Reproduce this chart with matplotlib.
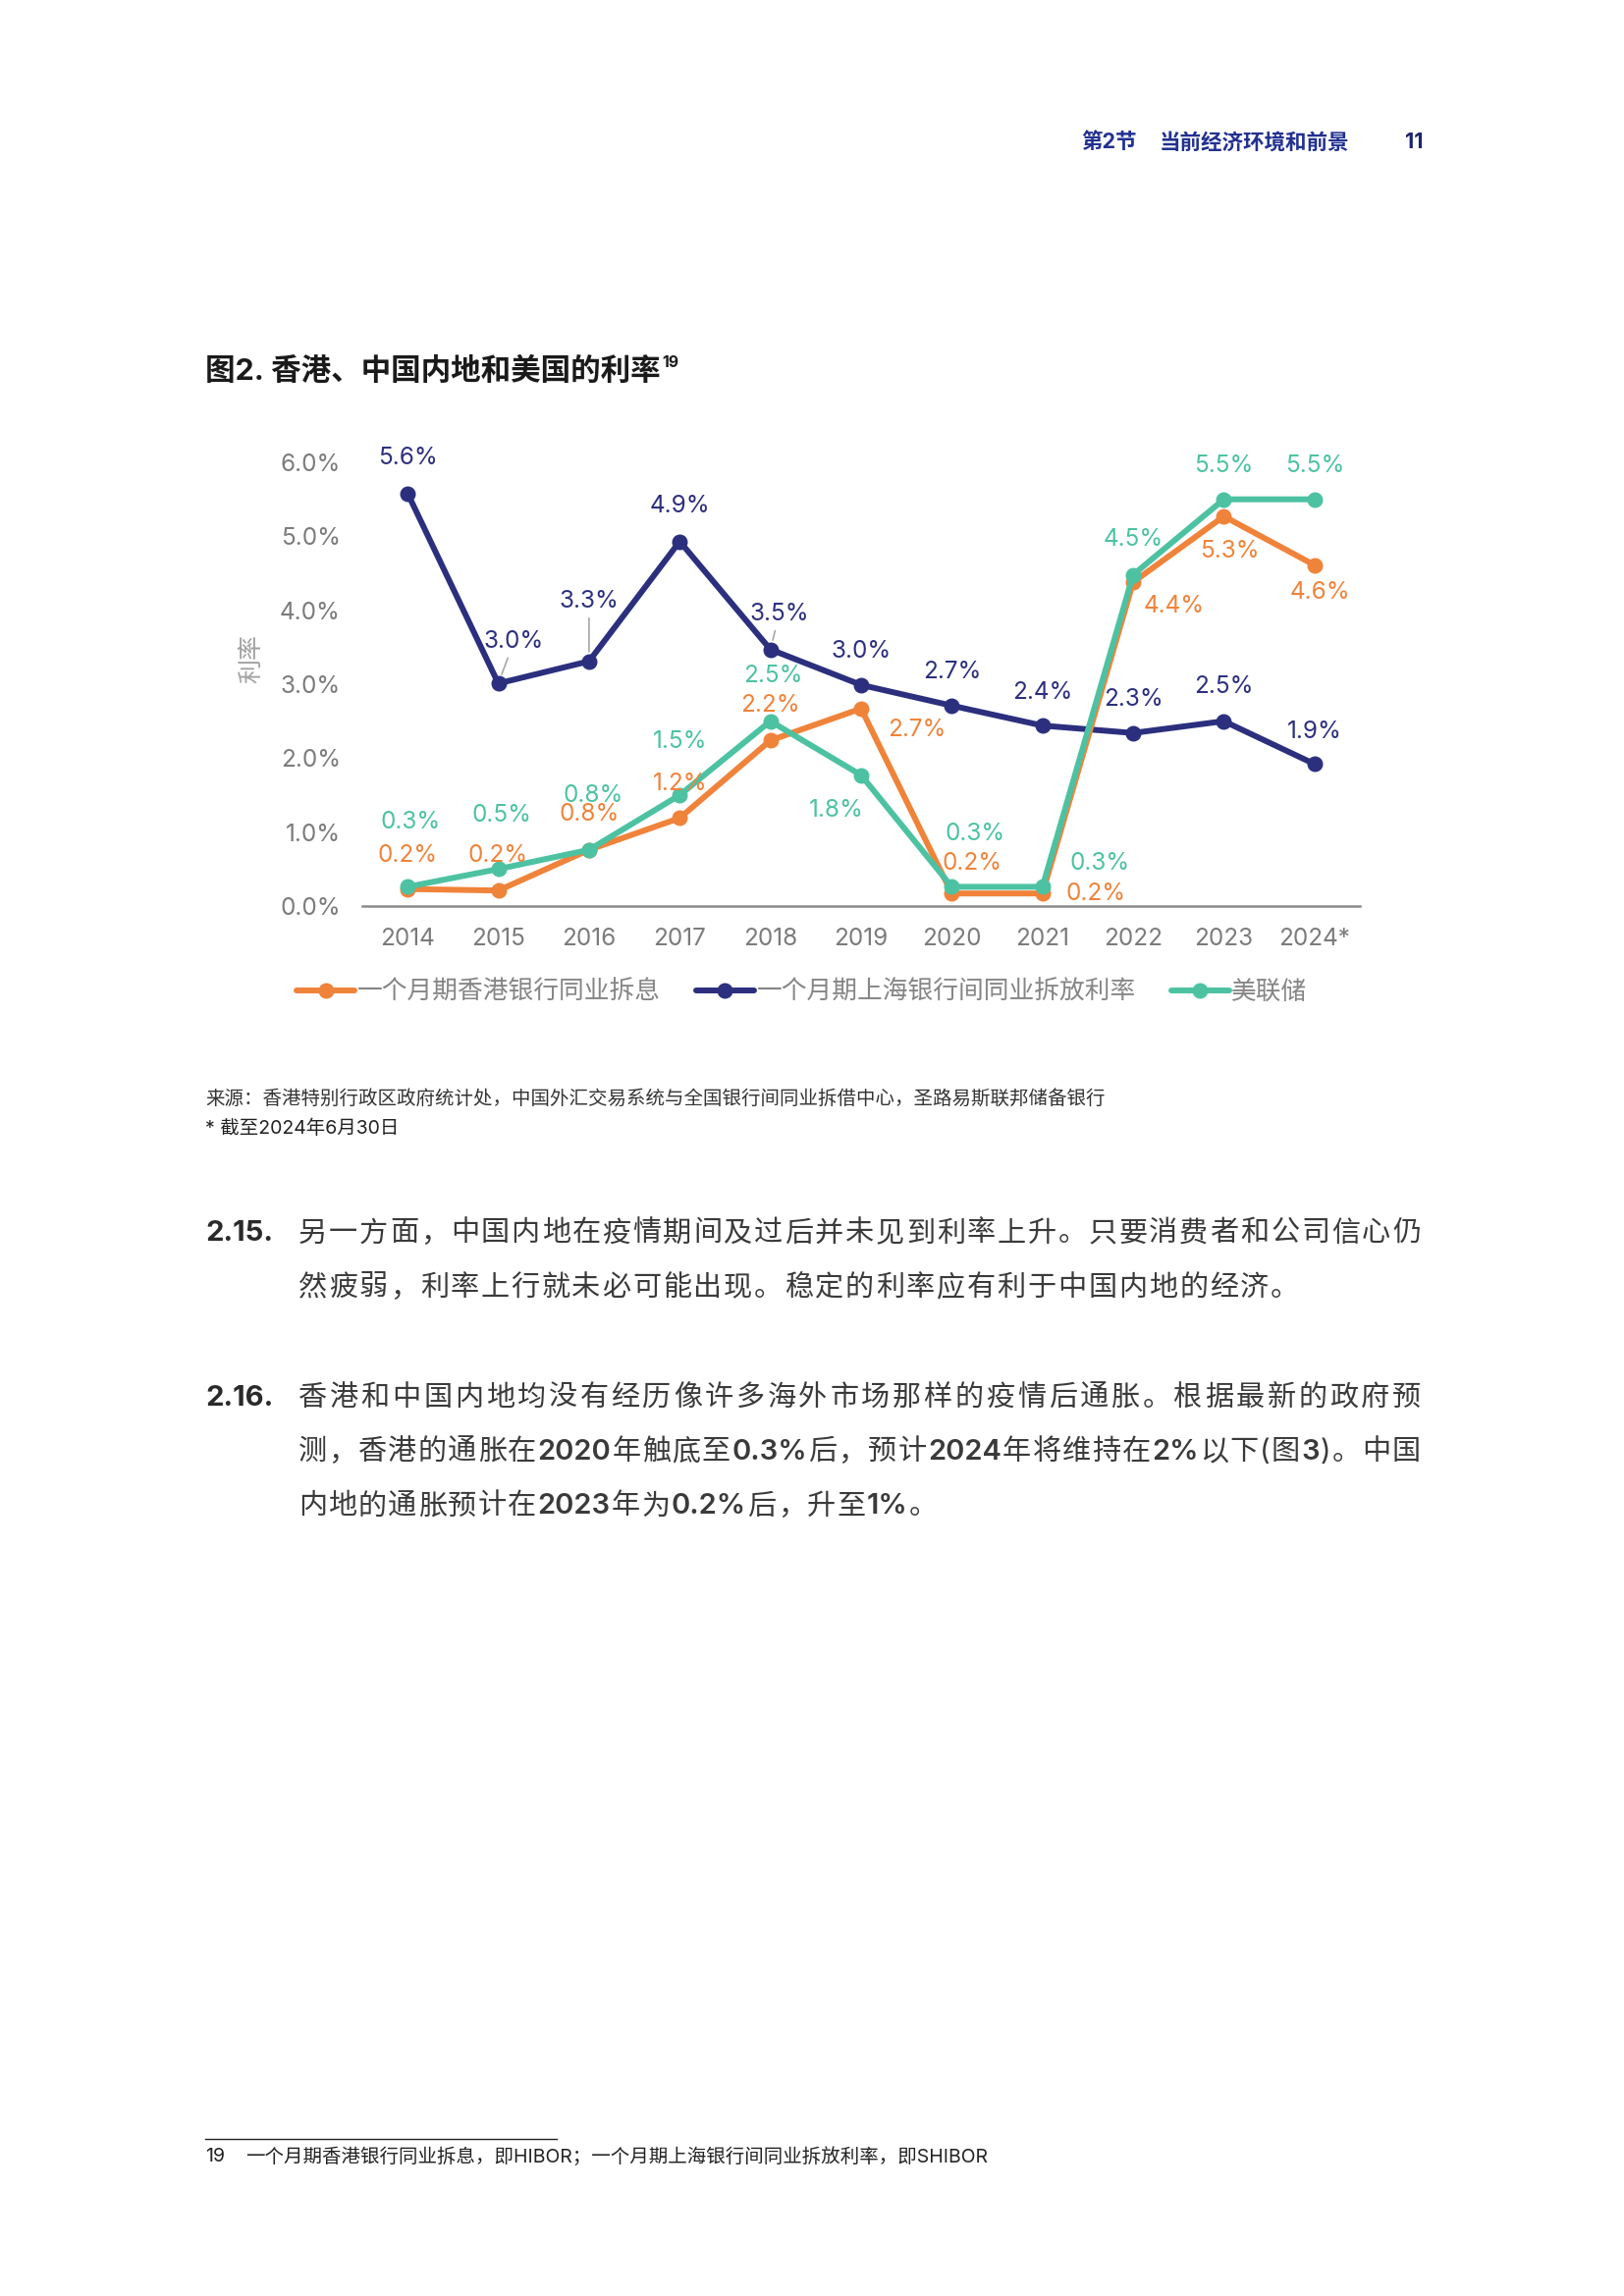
import re
import matplotlib
matplotlib.use('Agg')
import matplotlib.pyplot as plt
import numpy as np

plt.rcParams['font.family'] = ['Inter', 'Noto Sans CJK SC', 'DejaVu Sans']

# ---------------- data ----------------
years = ['2014', '2015', '2016', '2017', '2018', '2019', '2020', '2021', '2022', '2023', '2024*']
hibor = [0.23, 0.21, 0.76, 1.19, 2.24, 2.67, 0.17, 0.17, 4.38, 5.27, 4.61]
shibor = [5.58, 3.01, 3.31, 4.93, 3.47, 2.99, 2.71, 2.44, 2.34, 2.50, 1.92]
fed = [0.26, 0.50, 0.76, 1.50, 2.50, 1.77, 0.26, 0.26, 4.48, 5.50, 5.50]
series_names = ['一个月期香港银行同业拆息', '一个月期上海银行间同业拆放利率', '美联储']
yticks = [0.0, 1.0, 2.0, 3.0, 4.0, 5.0, 6.0]

# ---------------- styles ----------------
C_OR = '#F0833A'
C_NV = '#2B2F7E'
C_TL = '#4CC2A2'
GRAY = '#7b7b7b'
TXT = '#3a3a3a'

W, H, DPI = 1654, 2339, 100
fig = plt.figure(figsize=(W / DPI, H / DPI), dpi=DPI)
fig.patch.set_facecolor('white')


def fx(px):
    return px / W


def fy(py):
    return 1 - py / H


# ---------------- header ----------------
HDR = '#22318f'
fig.text(fx(1101), fy(145), '第2节', fontsize=15.5, fontweight='bold', color=HDR, va='center', ha='left')
fig.text(fx(1181), fy(145), '当前经济环境和前景', fontsize=15.5, fontweight='bold', color=HDR, va='center', ha='left')
fig.text(fx(1449), fy(145), '11', fontsize=15.5, fontweight='bold', color='#1a2470', va='center', ha='right')

# ---------------- title ----------------
renderer = fig.canvas.get_renderer()
t_title = fig.text(fx(209), fy(378), '图2. 香港、中国内地和美国的利率', fontsize=22, fontweight='bold',
                   color='#1a1a1a', va='center', ha='left')
bb = t_title.get_window_extent(renderer)
fig.text((bb.x1 + 2) / W, fy(370), '19', fontsize=11.5, fontweight='bold', color='#1a1a1a', va='center', ha='left')

# ---------------- axes ----------------
ax = fig.add_axes([fx(369), fy(923), fx(1385) - fx(369), fy(471) - fy(923)])
x = np.arange(len(years))
ax.set_xlim(-0.5, len(years) - 0.5)
ax.set_ylim(0, 6.0)

lw, ms = 4.3, 10.5
l_or, = ax.plot(x, hibor, color=C_OR, lw=lw, marker='o', ms=ms, zorder=3, solid_capstyle='round')
l_nv, = ax.plot(x, shibor, color=C_NV, lw=lw, marker='o', ms=ms, zorder=2, solid_capstyle='round')
l_tl, = ax.plot(x, fed, color=C_TL, lw=lw, marker='o', ms=ms, zorder=4, solid_capstyle='round')

for s in ['top', 'right', 'left']:
    ax.spines[s].set_visible(False)
ax.spines['bottom'].set_color('#8a8a8a')
ax.spines['bottom'].set_linewidth(1.8)
ax.set_yticks(yticks)
ax.set_yticklabels([f'{v:.1f}%' for v in yticks])
ax.set_xticks(x)
ax.set_xticklabels(years)
ax.tick_params(axis='both', length=0, labelsize=17.5, labelcolor=GRAY)
ax.tick_params(axis='y', pad=16)
ax.tick_params(axis='x', pad=16)
ax.patch.set_alpha(0)

fig.text(fx(257), fy(671), '利率', rotation=90, fontsize=18, color='#a0a0a0', ha='center', va='center')

# ---------------- data labels ----------------
off_nv = [(0, 36), (16, 43), (0, 61), (0, 36), (9, 36), (0, 34), (0, 34), (0, 34), (0, 34), (0, 35), (0, 33)]
off_or = [(0, 34), (0, 36), (0, 36), (0, 35), (0, 36), (57, -22), (21, 31), (54, 0), (42, -24), (6, -36), (6, -28)]
off_tl = [(3, 66), (3, 55), (4, 55), (0, 54), (3, 46), (-25, -36), (24, 54), (58, 24), (0, 36), (0, 34), (0, 34)]
leader_nv = {1, 2, 4}


def fmt(v):
    return f'{v:.1f}%'


def label_series(vals, offs, color, leaders=()):
    for i, (v, o) in enumerate(zip(vals, offs)):
        kw = {}
        if i in leaders:
            kw['arrowprops'] = dict(arrowstyle='-', color='#a8a8a8', lw=1.2, shrinkA=2, shrinkB=7)
        ax.annotate(fmt(v), xy=(x[i], v), xytext=o, textcoords='offset pixels', ha='center', va='center',
                    fontsize=17.5, color=color, zorder=6, annotation_clip=False, **kw)


label_series(shibor, off_nv, C_NV, leader_nv)
label_series(hibor, off_or, C_OR)
label_series(fed, off_tl, C_TL)

# ---------------- legend ----------------
fig.legend([l_or, l_nv, l_tl], series_names, loc='center', bbox_to_anchor=(fx(817), fy(1011)), ncol=3,
           frameon=False, fontsize=18.5, handlelength=2.3, handletextpad=0.1, columnspacing=1.4,
           labelcolor='#858585', numpoints=1)

# ---------------- source ----------------
fig.text(fx(209), fy(1120), '来源：香港特别行政区政府统计处，中国外汇交易系统与全国银行间同业拆借中心，圣路易斯联邦储备银行',
         fontsize=14, color='#333333', va='center', ha='left')
fig.text(fx(209), fy(1150), '* 截至2024年6月30日', fontsize=14, color='#222222', va='center', ha='left')


# ---------------- body paragraphs ----------------
def justified_line(line, x0, x1, y, size, color, gap=None):
    tokens = re.findall(r'[A-Za-z0-9.%]+|.', line)
    texts = []
    for t in tokens:
        wt = 'semibold' if re.match(r'[A-Za-z0-9.%]', t) else 'normal'
        texts.append(fig.text(0, fy(y), t, fontsize=size, color=color, va='center', ha='left', fontweight=wt))
    widths = [t.get_window_extent(renderer).width for t in texts]
    if gap is None:
        gap = (x1 - x0 - sum(widths)) / (len(tokens) - 1)
    xc = x0
    for t, w in zip(texts, widths):
        t.set_x(fx(xc))
        xc += w + gap
    return gap


BODY = 21
paras = [
    ('2.15.', 1257, ['另一方面，中国内地在疫情期间及过后并未见到利率上升。只要消费者和公司信心仍',
                     '然疲弱，利率上行就未必可能出现。稳定的利率应有利于中国内地的经济。']),
    ('2.16.', 1424, ['香港和中国内地均没有经历像许多海外市场那样的疫情后通胀。根据最新的政府预',
                     '测，香港的通胀在2020年触底至0.3%后，预计2024年将维持在2%以下(图3)。中国',
                     '内地的通胀预计在2023年为0.2%后，升至1%。']),
]
LINE_H = 55.5
for num, y0, lines in paras:
    fig.text(fx(209), fy(y0), num, fontsize=BODY, fontweight='bold', color='#2a2a2a', va='center', ha='left')
    g = None
    for k, ln in enumerate(lines):
        yy = y0 + k * LINE_H
        if k < len(lines) - 1:
            g = justified_line(ln, 304, 1447, yy, BODY, TXT)
        else:
            justified_line(ln, 304, 1447, yy, BODY, TXT, gap=g)

# ---------------- footnote ----------------
fig.add_artist(plt.Line2D([fx(209), fx(567)], [fy(2179), fy(2179)], color='#222222', lw=1.0))
fig.text(fx(209), fy(2197), '19', fontsize=14, color='#222222', va='center', ha='left')
fig.text(fx(250), fy(2197), '一个月期香港银行同业拆息，即HIBOR；一个月期上海银行间同业拆放利率，即SHIBOR',
         fontsize=14, color='#222222', va='center', ha='left')

fig.savefig('out.png', dpi=DPI, facecolor='white')
